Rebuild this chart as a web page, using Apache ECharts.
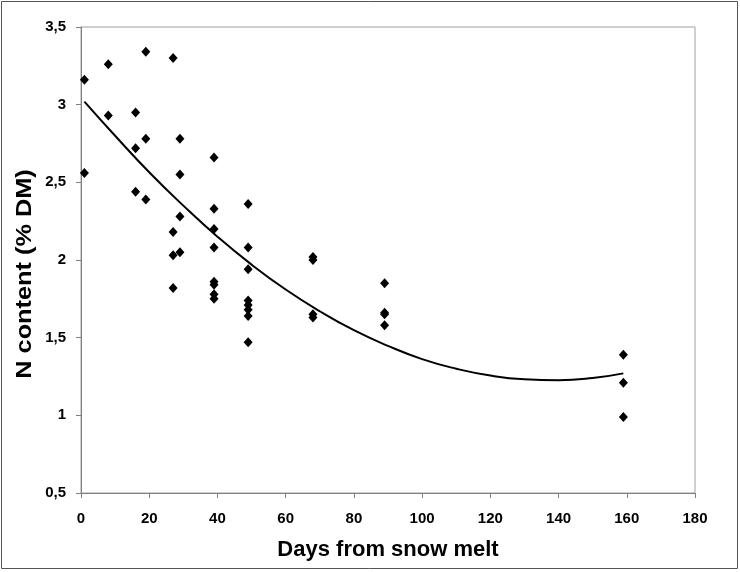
<!DOCTYPE html>
<html><head><meta charset="utf-8">
<script src="https://cdn.jsdelivr.net/npm/echarts@6/dist/echarts.min.js"></script>
<style>html,body{margin:0;padding:0;background:#fff}#c{width:740px;height:572px}</style>
</head><body><div id="c"></div>
<script>
// Observed points: days from snow melt, N content (% DM)
const days = [
  1,1,
  8,8,
  16,16,16,
  19,19,19,
  27,27,27,27,
  29,29,29,29,
  39,39,39,39,39,39,39,39,
  49,49,49,49,49,49,49,49,
  68,68,68,68,
  89,89,89,89,
  159,159,159];
const nContent = [
  3.16,2.56,
  3.26,2.93,
  2.95,2.72,2.44,
  3.34,2.78,2.39,
  3.30,2.18,2.03,1.82,
  2.78,2.55,2.28,2.05,
  2.66,2.33,2.20,2.08,1.86,1.84,1.78,1.75,
  2.36,2.08,1.94,1.74,1.71,1.68,1.64,1.47,
  2.02,2.00,1.65,1.63,
  1.85,1.66,1.65,1.58,
  1.39,1.21,0.99];
// Trend line
const trendX = [1,10,20,30,40,50,60,70,80,90,100,110,120,130,140,150,159];
const trendY = [3.02,2.80,2.565,2.35,2.15,1.97,1.81,1.67,1.548,1.447,1.362,1.30,1.256,1.232,1.226,1.24,1.27];
const xTitle = 'Days from snow melt';
const yTitle = 'N content (% DM)';

const chart = echarts.init(document.getElementById('c'));
const font = 'Arial, "Liberation Sans", sans-serif';
chart.setOption({
  animation:false,
  backgroundColor:'#fff',
  graphic:[
    {type:'rect',shape:{x:1.5,y:1.5,width:736,height:567},style:{fill:'none',stroke:'#555',lineWidth:1}},
    {type:'text',x:25,y:274,rotation:Math.PI/2,scaleX:1.15,
      style:{text:yTitle,font:'bold 22px '+font,fill:'#000',align:'center',verticalAlign:'middle'}}
  ],
  grid:{left:81,top:27,right:45,bottom:79,show:true,borderColor:'#a0a0a0',borderWidth:1,backgroundColor:'#fff'},
  xAxis:{type:'value',min:0,max:180,interval:20,
    name:xTitle,nameLocation:'middle',nameGap:46,
    nameTextStyle:{fontFamily:font,fontWeight:'bold',fontSize:22,color:'#000'},
    axisLine:{lineStyle:{color:'#808080'}},axisTick:{show:true,length:5,lineStyle:{color:'#808080'}},
    axisLabel:{fontFamily:font,fontWeight:'bold',fontSize:15,color:'#000',margin:18},
    splitLine:{show:false}},
  yAxis:{type:'value',min:0.5,max:3.5,interval:0.5,
    axisLine:{show:true,lineStyle:{color:'#808080'}},axisTick:{show:true,length:5,lineStyle:{color:'#808080'}},
    axisLabel:{fontFamily:font,fontWeight:'bold',fontSize:15,color:'#000',margin:15,
      formatter:v=>String(v).replace('.',',')},
    splitLine:{show:false}},
  series:[
    {type:'scatter',data:days.map((d,i)=>[d,nContent[i]]),symbol:'diamond',symbolSize:[9,10],
      itemStyle:{color:'#000',opacity:1},z:3},
    {type:'line',data:trendX.map((d,i)=>[d,trendY[i]]),smooth:true,showSymbol:false,
      lineStyle:{color:'#000',width:2},z:2}
  ]
});
</script></body></html>
